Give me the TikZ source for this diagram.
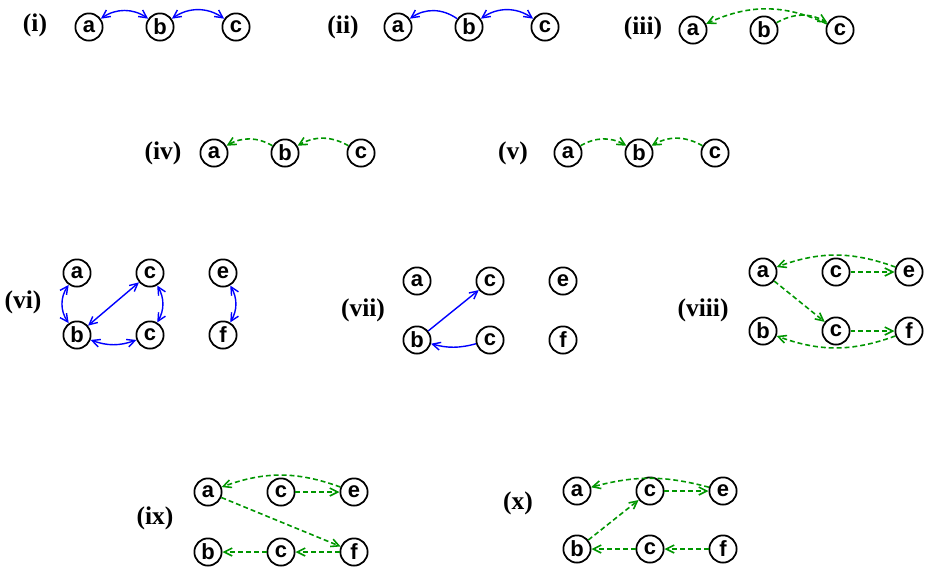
\documentclass[tikz,border=0pt]{standalone}
\usepackage{fontspec}
\setmainfont{Liberation Serif}
\setsansfont{Liberation Sans}
\usetikzlibrary{arrows.meta}

\definecolor{linkblue}{RGB}{0,0,255}
\definecolor{linkgreen}{RGB}{0,150,0}

\begin{document}
\begin{tikzpicture}[
	x=0.02cm,
	y=-0.02cm,
	>={Straight Barb[length=4.5pt,width=4.5pt]},
	vertex/.style={
		circle,
		draw=black,
		line width=1pt,
		minimum size=15.5pt,
		inner sep=0pt,
		font=\sffamily\bfseries\fontsize{12.5}{13}\selectfont
	},
	panellabel/.style={
		font=\bfseries\fontsize{14.5}{15}\selectfont
	},
	solidlink/.style={
		draw=linkblue,
		line width=0.8pt
	},
	dashlink/.style={
		draw=linkgreen,
		line width=0.9pt,
		dash pattern=on 2.8pt off 1.7pt
	}
]

\useasboundingbox (0,0) rectangle (934,572);

% three node rows: panel / x of a / y
\foreach \p/\x/\y in {1/89/27, 2/398/27, 3/693/30, 4/214/153, 5/568/153} {
	\node [vertex] (p\p-a) at (\x,\y) {a};
	\node [vertex] (p\p-b) at (\x+71,\y) {b};
	\node [vertex] (p\p-c) at (\x+147,\y) {c};
}

% two by three panels: panel / x of a / y of a / row gap
\foreach \p/\x/\y/\dy in {6/77/273/62, 7/417/281/59, 8/763/272/59, 9/208/492/60, 10/577/491/58} {
	\node [vertex] (p\p-a) at (\x,\y) {a};
	\node [vertex] (p\p-ct) at (\x+73,\y) {c};
	\node [vertex] (p\p-e) at (\x+146,\y) {e};
	\node [vertex] (p\p-b) at (\x,\y+\dy) {b};
	\node [vertex] (p\p-cb) at (\x+73,\y+\dy) {c};
	\node [vertex] (p\p-f) at (\x+146,\y+\dy) {f};
}

\foreach \name/\x/\y in {i/35/25, ii/343/27, iii/643/28, iv/163/153, v/513/153, vi/23/302, vii/363/310, viii/703/310, ix/155/518, x/518/503} {
	\node [panellabel] (lab-\name) at (\x,\y) {(\name)};
}

% (i)
\draw [solidlink,<->] (p1-a) to [bend left=35] (p1-b);
\draw [solidlink,<->] (p1-b) to [bend left=35] (p1-c);

% (ii)
\draw [solidlink,->] (p2-b) to [bend right=35] (p2-a);
\draw [solidlink,<->] (p2-b) to [bend left=35] (p2-c);

% (iii)
\draw [dashlink,->] (p3-c) to [bend right=25] (p3-a);
\draw [dashlink,->] (p3-b) to [bend left=30] (p3-c);

% (iv)
\draw [dashlink,->] (p4-c) to [bend right=30] (p4-b);
\draw [dashlink,->] (p4-b) to [bend right=30] (p4-a);

% (v)
\draw [dashlink,->] (p5-a) to [bend left=30] (p5-b);
\draw [dashlink,->] (p5-c) to [bend right=30] (p5-b);

% (vi)
\draw [solidlink,<->] (p6-a) to [bend right=35] (p6-b);
\draw [solidlink,<->] (p6-b) -- (p6-ct);
\draw [solidlink,<->] (p6-ct) to [bend left=30] (p6-cb);
\draw [solidlink,<->] (p6-b) to [bend right=20] (p6-cb);
\draw [solidlink,<->] (p6-e) to [bend left=30] (p6-f);

% (vii)
\draw [solidlink,->] (p7-b) -- (p7-ct);
\draw [solidlink,->] (p7-cb) to [bend left=15] (p7-b);

% (viii)
\draw [dashlink,->] (p8-e) to [bend right=20] (p8-a);
\draw [dashlink,->] (p8-ct) -- (p8-e);
\draw [dashlink,->] (p8-a) -- (p8-cb);
\draw [dashlink,->] (p8-cb) -- (p8-f);
\draw [dashlink,->] (p8-f) to [bend left=20] (p8-b);

% (ix)
\draw [dashlink,->] (p9-e) to [bend right=20] (p9-a);
\draw [dashlink,->] (p9-ct) -- (p9-e);
\draw [dashlink,->] (p9-a) -- (p9-f);
\draw [dashlink,->] (p9-f) -- (p9-cb);
\draw [dashlink,->] (p9-cb) -- (p9-b);

% (x)
\draw [dashlink,->] (p10-e) to [bend right=15] (p10-a);
\draw [dashlink,->] (p10-ct) -- (p10-e);
\draw [dashlink,->] (p10-b) -- (p10-ct);
\draw [dashlink,->] (p10-f) -- (p10-cb);
\draw [dashlink,->] (p10-cb) -- (p10-b);

\end{tikzpicture}
\end{document}
